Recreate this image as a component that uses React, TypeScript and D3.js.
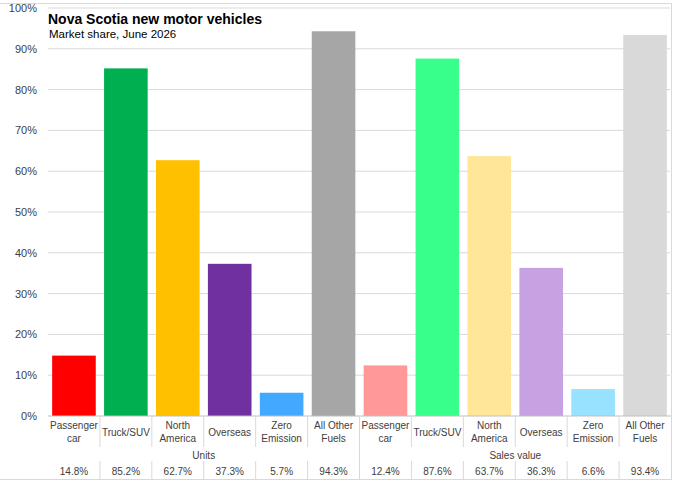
import React from "react";
import * as d3 from "d3";

const categories = ["Passenger car", "Truck/SUV", "North America", "Overseas", "Zero Emission", "All Other Fuels"];
const groups = ["Units", "Sales value"];
const unitsValues = [14.8, 85.2, 62.7, 37.3, 5.7, 94.3];
const salesValues = [12.4, 87.6, 63.7, 36.3, 6.6, 93.4];
const unitsColors = ["#FF0000", "#00B050", "#FFC000", "#7030A0", "#41A9FF", "#A6A6A6"];
const salesColors = ["#FF9999", "#38FF8C", "#FFE699", "#C6A2E2", "#99E2FF", "#D9D9D9"];
const yTicks = [0, 10, 20, 30, 40, 50, 60, 70, 80, 90, 100];

const labelLines: Record<string, string[]> = {
  "Passenger car": ["Passenger", "car"],
  "Truck/SUV": ["Truck/SUV"],
  "North America": ["North", "America"],
  "Overseas": ["Overseas"],
  "Zero Emission": ["Zero", "Emission"],
  "All Other Fuels": ["All Other", "Fuels"],
};

const W = 673;
const H = 481;
const FONT = "'Liberation Sans', Arial, sans-serif";

export default function App() {
  const rows = [
    ...categories.map((c, i) => ({ key: `u${i}`, cat: c, group: 0, value: unitsValues[i], color: unitsColors[i] })),
    ...categories.map((c, i) => ({ key: `s${i}`, cat: c, group: 1, value: salesValues[i], color: salesColors[i] })),
  ];
  const left = 48;
  const right = 671;
  const x = d3.scaleBand<string>().domain(rows.map((r) => r.key)).range([left, right]).paddingInner(0.16).paddingOuter(0.08);
  const y = d3.scaleLinear().domain([0, 100]).range([416, 8]);
  const step = x.step();
  const bandStart = (k: string) => (x(k) as number) - (step - x.bandwidth()) / 2;
  const axisY = y(0);
  const labelBottom = 447;
  const dataTop = 461;
  const bottom = 479;

  return (
    <svg width={W} height={H} style={{ position: "absolute", left: 0, top: 0, background: "#fff" }} fontFamily={FONT}>
      <rect x={-1} y={3.5} width={672.5} height={476} fill="#fff" stroke="#d9d9d9" />
      {yTicks.map((t) => (
        <g key={t}>
          {t > 0 && <line x1={left} x2={right - 1} y1={y(t)} y2={y(t)} stroke="#d9d9d9" />}
          <text x={37} y={y(t) + 4} textAnchor="end" fontSize={11} fill="#404040">{t}%</text>
        </g>
      ))}
      <text x={48} y={24} fontSize={14} fontWeight="bold" fill="#000">Nova Scotia new motor vehicles</text>
      <text x={49} y={38} fontSize={11.5} fill="#000">Market share, June 2026</text>
      {rows.map((r) => (
        <rect key={r.key} x={x(r.key)} y={y(r.value)} width={x.bandwidth()} height={axisY - y(r.value)} fill={r.color} />
      ))}
      <line x1={left} x2={right} y1={axisY} y2={axisY} stroke="#bfbfbf" />
      {rows.map((r, i) => {
        const cx = (x(r.key) as number) + x.bandwidth() / 2;
        const lines = labelLines[r.cat];
        const x0 = bandStart(r.key);
        return (
          <g key={"l" + r.key}>
            {i > 0 && i !== 6 && (
              <>
                <line x1={x0} x2={x0} y1={axisY} y2={labelBottom} stroke="#d9d9d9" />
                <line x1={x0} x2={x0} y1={dataTop} y2={bottom} stroke="#d9d9d9" />
              </>
            )}
            {i === 6 && <line x1={x0} x2={x0} y1={axisY} y2={bottom} stroke="#d9d9d9" />}
            {lines.map((ln, j) => (
              <text key={j} x={cx} y={lines.length === 1 ? 435.5 : 428.5 + j * 13} textAnchor="middle" fontSize={10} fill="#404040">{ln}</text>
            ))}
            <text x={cx} y={474.5} textAnchor="middle" fontSize={10} fill="#404040">{r.value.toFixed(1)}%</text>
          </g>
        );
      })}
      {groups.map((g, gi) => {
        const a = bandStart(rows[gi * 6].key);
        const b = bandStart(rows[gi * 6 + 5].key) + step;
        return (
          <text key={g} x={(a + b) / 2} y={458.5} textAnchor="middle" fontSize={10} fill="#404040">{g}</text>
        );
      })}
    </svg>
  );
}
